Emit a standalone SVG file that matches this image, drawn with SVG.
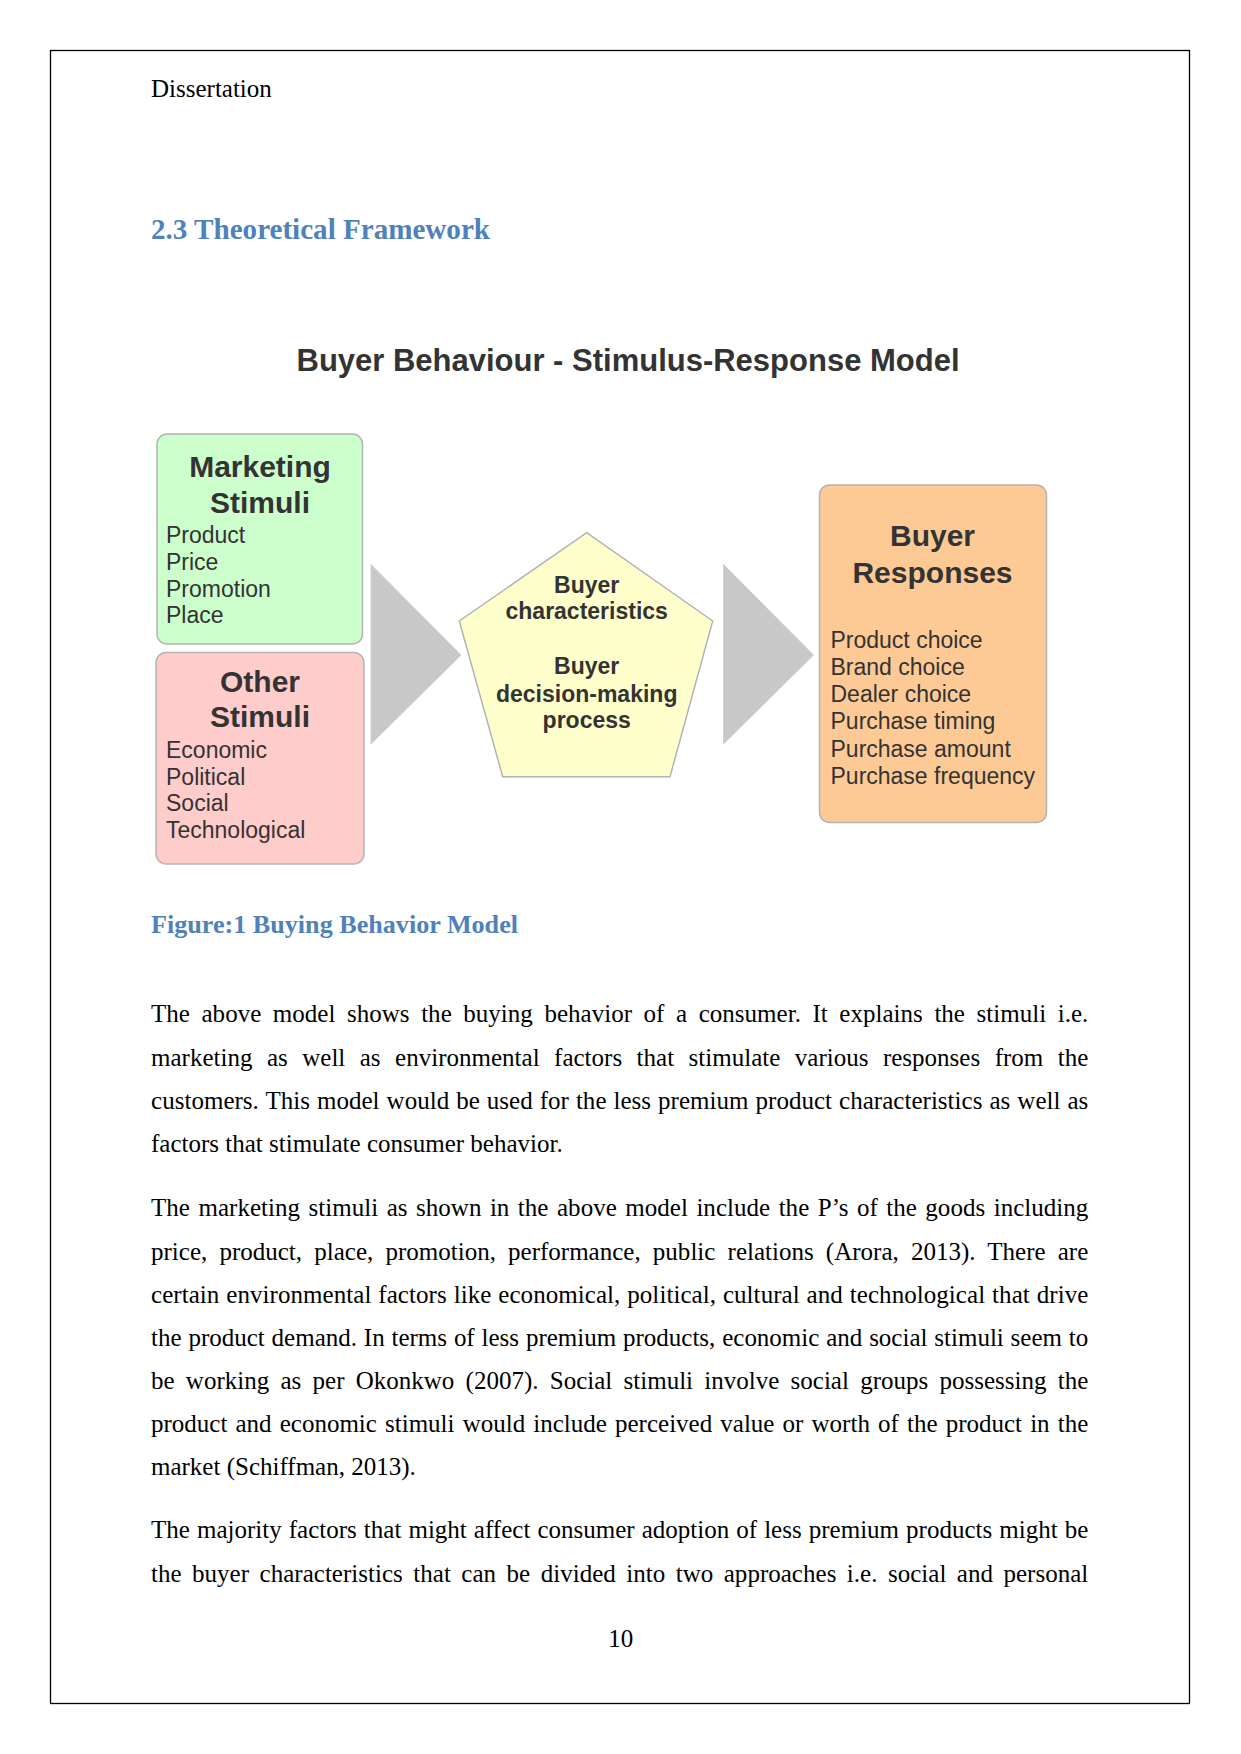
<svg xmlns="http://www.w3.org/2000/svg" width="1241" height="1754" viewBox="0 0 1241 1754">
  <style>
    .body { font-family: "Liberation Serif", "Times New Roman", serif; font-size: 25px; fill: #000; }
    .head { font-family: "Liberation Serif", "Times New Roman", serif; font-weight: bold; fill: #4f81bd; }
    .dg { font-family: "Liberation Sans", Arial, sans-serif; fill: #333; }
    .dt { font-weight: bold; font-size: 30px; text-anchor: middle; }
    .di { font-size: 23px; }
    .pt { font-weight: bold; font-size: 23px; text-anchor: middle; }
    .box { stroke: #b4b4b4; stroke-width: 1.5; }
    .arrow { fill: #c8c8c8; stroke: #d0d0d0; stroke-width: 1; }
  </style>
  <rect x="0" y="0" width="1241" height="1754" fill="#fff"/>
  <rect x="50.5" y="50.5" width="1139" height="1653" fill="none" stroke="#000" stroke-width="1.3"/>

  <text class="body" x="151" y="97">Dissertation</text>
  <text class="head" x="151" y="239" font-size="29" textLength="339" lengthAdjust="spacingAndGlyphs">2.3 Theoretical Framework</text>

  <text class="dg" x="296.5" y="371" font-size="31" font-weight="bold" textLength="663" lengthAdjust="spacingAndGlyphs">Buyer Behaviour - Stimulus-Response Model</text>

  <g id="connectors">
    <polygon class="arrow" points="371,564.5 461,655 371,744"/>
    <polygon class="arrow" points="723.5,564.5 813.5,655 723.5,744"/>
  </g>

  <g id="node-marketing-stimuli" class="dg">
    <rect class="box" x="157" y="434" width="205.5" height="210" rx="10" fill="#ccffcc"/>
    <text class="dt" x="260" y="477">Marketing</text>
    <text class="dt" x="260" y="512.5">Stimuli</text>
    <text class="di" x="166" y="542.5">Product</text>
    <text class="di" x="166" y="569.5">Price</text>
    <text class="di" x="166" y="596.5">Promotion</text>
    <text class="di" x="166" y="623.3">Place</text>
  </g>

  <g id="node-other-stimuli" class="dg">
    <rect class="box" x="156" y="652.5" width="208" height="211.5" rx="10" fill="#ffcccc"/>
    <text class="dt" x="260" y="691.5">Other</text>
    <text class="dt" x="260" y="727.3">Stimuli</text>
    <text class="di" x="166" y="757.7">Economic</text>
    <text class="di" x="166" y="784.5">Political</text>
    <text class="di" x="166" y="811.3">Social</text>
    <text class="di" x="166" y="837.5">Technological</text>
  </g>

  <g id="node-buyer-characteristics" class="dg">
    <polygon class="box" points="586.7,532.7 712.7,621 670,776.7 502.7,776.7 459.3,621" fill="#ffffcc"/>
    <text class="pt" x="586.7" y="592.5">Buyer</text>
    <text class="pt" x="586.7" y="619.3">characteristics</text>
    <text class="pt" x="586.7" y="674.3">Buyer</text>
    <text class="pt" x="586.7" y="701.5">decision-making</text>
    <text class="pt" x="586.7" y="728.3">process</text>
  </g>

  <g id="node-buyer-responses" class="dg">
    <rect class="box" x="819.5" y="485" width="227" height="337.5" rx="10" fill="#fdca96"/>
    <text class="dt" x="932.5" y="546">Buyer</text>
    <text class="dt" x="932.5" y="582.5">Responses</text>
    <text class="di" x="830.5" y="648.3">Product choice</text>
    <text class="di" x="830.5" y="675.2">Brand choice</text>
    <text class="di" x="830.5" y="702.2">Dealer choice</text>
    <text class="di" x="830.5" y="729.3">Purchase timing</text>
    <text class="di" x="830.5" y="756.8">Purchase amount</text>
    <text class="di" x="830.5" y="784">Purchase frequency</text>
  </g>

  <text class="head" x="151" y="933" font-size="26" textLength="367" lengthAdjust="spacingAndGlyphs">Figure:1 Buying Behavior Model</text>

  <g id="body-text">
    <text class="body" x="151" y="1022.3" word-spacing="5.3" textLength="937.3" lengthAdjust="spacing">The above model shows the buying behavior of a consumer. It explains the stimuli i.e.</text>
    <text class="body" x="151" y="1065.8" word-spacing="8.2" textLength="937.3" lengthAdjust="spacing">marketing as well as environmental factors that stimulate various responses from the</text>
    <text class="body" x="151" y="1109" word-spacing="0.7" textLength="937.3" lengthAdjust="spacing">customers. This model would be used for the less premium product characteristics as well as</text>
    <text class="body" x="151" y="1152.3">factors that stimulate consumer behavior.</text>

    <text class="body" x="151" y="1216" word-spacing="2.2" textLength="937.3" lengthAdjust="spacing">The marketing stimuli as shown in the above model include the P’s of the goods including</text>
    <text class="body" x="151" y="1259.5" word-spacing="5.9" textLength="937.3" lengthAdjust="spacing">price, product, place, promotion, performance, public relations (Arora, 2013). There are</text>
    <text class="body" x="151" y="1302.7" word-spacing="0.6" textLength="937.3" lengthAdjust="spacing">certain environmental factors like economical, political, cultural and technological that drive</text>
    <text class="body" x="151" y="1345.8" word-spacing="0.6" textLength="937.3" lengthAdjust="spacing">the product demand. In terms of less premium products, economic and social stimuli seem to</text>
    <text class="body" x="151" y="1389" word-spacing="5.0" textLength="937.3" lengthAdjust="spacing">be working as per Okonkwo (2007). Social stimuli involve social groups possessing the</text>
    <text class="body" x="151" y="1432" word-spacing="1.9" textLength="937.3" lengthAdjust="spacing">product and economic stimuli would include perceived value or worth of the product in the</text>
    <text class="body" x="151" y="1475">market (Schiffman, 2013).</text>

    <text class="body" x="151" y="1537.7" word-spacing="0.8" textLength="937.3" lengthAdjust="spacing">The majority factors that might affect consumer adoption of less premium products might be</text>
    <text class="body" x="151" y="1581.7" word-spacing="4.2" textLength="937.3" lengthAdjust="spacing">the buyer characteristics that can be divided into two approaches i.e. social and personal</text>
  </g>

  <text class="body" x="620.8" y="1646.7" text-anchor="middle">10</text>
</svg>
